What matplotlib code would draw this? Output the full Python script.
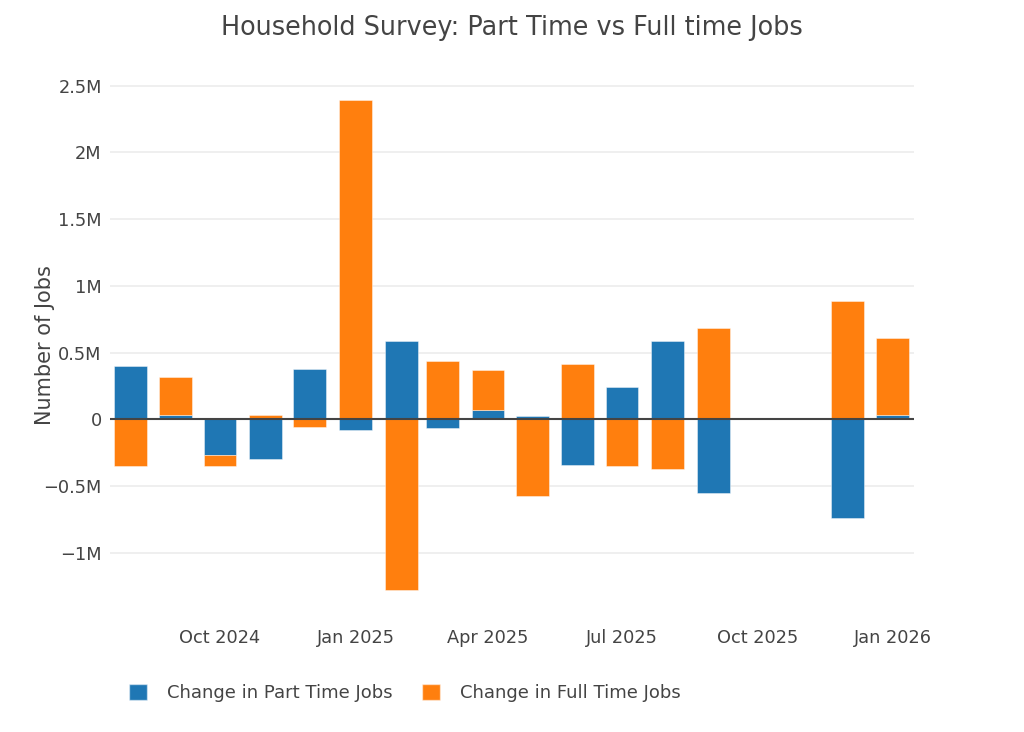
import numpy as np
import matplotlib
matplotlib.use("Agg")
import matplotlib.pyplot as plt
import matplotlib.dates as mdates
from matplotlib.patches import Patch
from matplotlib.ticker import FuncFormatter

plt.rcParams['font.family'] = ['DejaVu Sans']

# monthly changes (millions); Oct/Nov 2025 missing
months = ['2024-08-01', '2024-09-01', '2024-10-01', '2024-11-01', '2024-12-01',
          '2025-01-01', '2025-02-01', '2025-03-01', '2025-04-01', '2025-05-01',
          '2025-06-01', '2025-07-01', '2025-08-01', '2025-09-01',
          '2025-12-01', '2026-01-01']
part_time = [0.40, 0.036, -0.265, -0.30, 0.375,
             -0.08, 0.59, -0.067, 0.067, 0.022,
             -0.34, 0.245, 0.587, -0.55,
             -0.74, 0.03]
full_time = [-0.35, 0.28, -0.085, 0.033, -0.055,
             2.39, -1.275, 0.437, 0.30, -0.575,
             0.415, -0.35, -0.37, 0.687,
             0.889, 0.58]
y_ticks = [-1.0, -0.5, 0, 0.5, 1.0, 1.5, 2.0, 2.5]
x_ticks = ['2024-10-01', '2025-01-01', '2025-04-01', '2025-07-01', '2025-10-01', '2026-01-01']

blue = '#1f77b4'
orange = '#ff7f0e'
txt = '#444444'

dates = mdates.date2num(np.array(months, dtype='datetime64[D]'))
pt = np.array(part_time)
ft = np.array(full_time)
# relative stacking: same-sign values stack, opposite signs start at zero
ft_base = np.where(np.sign(ft) == np.sign(pt), pt, 0.0)

fig = plt.figure(figsize=(10.24, 7.32), dpi=100)
ax = fig.add_axes([110 / 1024, (732 - 614) / 732, 804 / 1024, 538 / 732])

width = 22.4
edge = (1, 1, 1, 0.5)
ax.bar(dates, pt, width=width, color=blue, edgecolor=edge, linewidth=0.6, zorder=2)
ax.bar(dates, ft, width=width, bottom=ft_base, color=orange, edgecolor=edge,
       linewidth=0.6, zorder=2)
ax.axhline(0, color=txt, linewidth=1.5, zorder=3)

x0 = mdates.date2num(np.datetime64('2024-08-01')) - 13.7
x1 = mdates.date2num(np.datetime64('2026-01-01')) + 14.3
ax.set_xlim(x0, x1)
ax.set_ylim(-1.458, 2.573)

ax.set_xticks(mdates.date2num(np.array(x_ticks, dtype='datetime64[D]')))
ax.xaxis.set_major_formatter(mdates.DateFormatter('%b %Y'))
ax.set_yticks(y_ticks)


def fmt_m(v, pos):
    if abs(v) < 1e-9:
        return '0'
    s = ('%g' % abs(v)) + 'M'
    return ('\u2212' + s) if v < 0 else s


ax.yaxis.set_major_formatter(FuncFormatter(fmt_m))
ax.tick_params(axis='both', length=0, labelsize=12.8, colors=txt)
ax.tick_params(axis='x', pad=11)
ax.tick_params(axis='y', pad=6)
ax.grid(axis='y', color='#ebebeb', linewidth=1.1, zorder=0)
ax.set_axisbelow(True)
for s in ax.spines.values():
    s.set_visible(False)

ax.set_ylabel('Number of Jobs', fontsize=15, color=txt, va='center')
ax.yaxis.set_label_coords(-0.081, 0.5)
fig.text(0.5, 1 - 28 / 732, 'Household Survey: Part Time vs Full time Jobs',
         ha='center', va='center', fontsize=18.4, color=txt)

handles = [Patch(facecolor=blue, edgecolor=edge), Patch(facecolor=orange, edgecolor=edge)]
fig.legend(handles, ['Change in Part Time Jobs', 'Change in Full Time Jobs'],
           loc='center left', bbox_to_anchor=(113 / 1024, 1 - 693 / 732), ncol=2,
           frameon=False, fontsize=13, labelcolor=txt, handlelength=1.0,
           handleheight=1.0, handletextpad=1.1, columnspacing=1.6)

fig.savefig('out.png', dpi=100)
